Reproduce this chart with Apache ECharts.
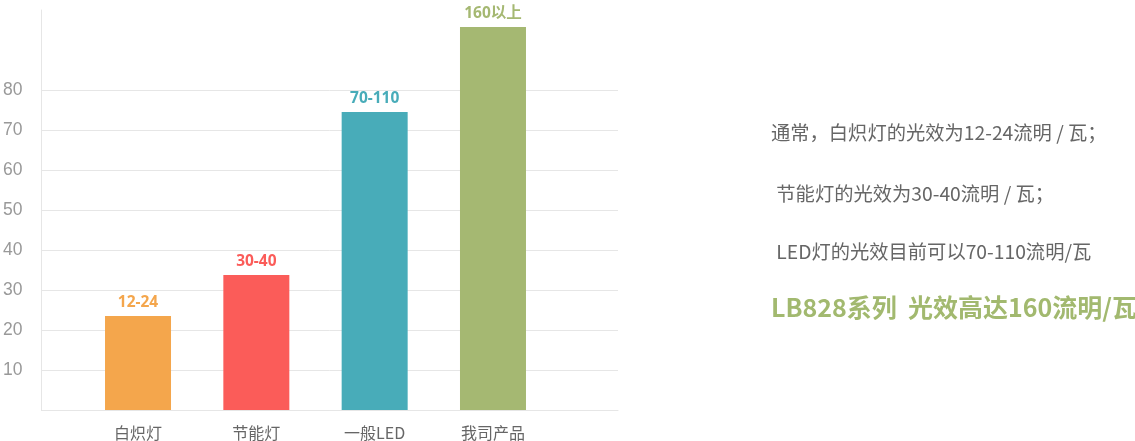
<!DOCTYPE html>
<html>
<head>
<meta charset="utf-8">
<script src="https://cdn.jsdelivr.net/npm/echarts@6/dist/echarts.min.js"></script>
<style>
html,body{margin:0;padding:0;background:#fff;}
#main{width:1135px;height:441px;}
</style>
</head>
<body>
<div id="main"></div>
<script>
const categories = ['白炽灯', '节能灯', '一般LED', '我司产品'];
const values = [23.5, 33.75, 74.5, 95.75];
const valueLabels = ['12-24', '30-40', '70-110', '160以上'];
const barColors = ['#f4a64c', '#fb5c59', '#48acb9', '#a5b872'];
const yTicksShown = [10, 20, 30, 40, 50, 60, 70, 80];
const notes = [
  '通常，白炽灯的光效为12-24流明 / 瓦；',
  ' 节能灯的光效为30-40流明 / 瓦；',
  ' LED灯的光效目前可以70-110流明/瓦',
  'LB828系列  光效高达160流明/瓦'
];

const chart = echarts.init(document.getElementById('main'));
const gridColor = '#e6e6e6';
const splitColors = [];
for (let v = 0; v <= 100; v += 10) {
  splitColors.push(v <= 80 ? gridColor : 'rgba(0,0,0,0)');
}

chart.setOption({
  animation: false,
  grid: [
    { left: 39, right: 517, top: 10, bottom: 31 },
    { left: 78.85, width: 473.3, top: 10, bottom: 31 }
  ],
  xAxis: [
    {
      type: 'category', gridIndex: 0, data: [''],
      axisLine: { show: true, lineStyle: { color: gridColor, width: 1 } },
      axisTick: { show: false }, axisLabel: { show: false }, splitLine: { show: false }
    },
    {
      type: 'category', gridIndex: 1, data: categories,
      axisLine: { show: false }, axisTick: { show: false },
      axisLabel: { color: '#666', fontSize: 16, margin: 15, fontFamily: 'Noto Sans CJK SC' }
    }
  ],
  yAxis: [
    {
      type: 'value', gridIndex: 0, min: 0, max: 100, interval: 10,
      axisLine: { show: true, lineStyle: { color: gridColor, width: 1 } },
      axisTick: { show: false },
      axisLabel: {
        color: '#999', fontSize: 17.5, margin: 19, fontFamily: 'Liberation Sans',
        formatter: function (v) { return yTicksShown.indexOf(v) >= 0 ? String(v) : ''; }
      },
      splitLine: { show: true, lineStyle: { color: splitColors, width: 1 } }
    },
    {
      type: 'value', gridIndex: 1, min: 0, max: 100, interval: 10, show: false,
      splitLine: { show: false }
    }
  ],
  series: [{
    type: 'bar',
    xAxisIndex: 1, yAxisIndex: 1,
    barWidth: 66,
    data: values.map(function (v, i) {
      return {
        value: v,
        itemStyle: { color: barColors[i] },
        label: { color: barColors[i] }
      };
    }),
    label: {
      show: true, position: 'top', distance: 6,
      fontSize: 15.5, fontWeight: 'bold', fontFamily: 'Noto Sans, Noto Sans CJK SC',
      formatter: function (p) { return valueLabels[p.dataIndex]; }
    }
  }],
  graphic: [
    { type: 'text', left: 771, top: 123, style: { text: notes[0], fill: '#666', font: '19.3px "Noto Sans CJK SC"' } },
    { type: 'text', left: 772, top: 184, style: { text: notes[1], fill: '#666', font: '19.3px "Noto Sans CJK SC"' } },
    { type: 'text', left: 772, top: 242, style: { text: notes[2], fill: '#666', font: '19.3px "Noto Sans CJK SC"' } },
    { type: 'text', left: 771, top: 295, style: { text: notes[3], fill: '#a2b96f', font: 'bold 25px "Noto Sans CJK SC"' } }
  ]
});
</script>
</body>
</html>
